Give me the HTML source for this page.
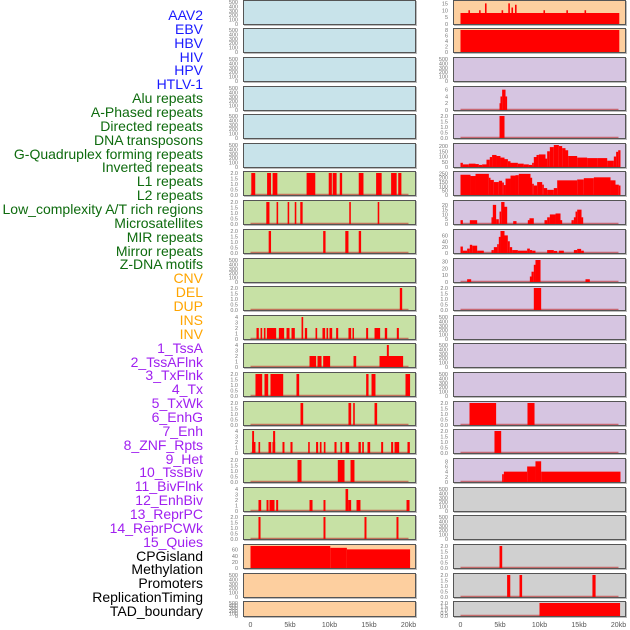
<!DOCTYPE html>
<html><head><meta charset="utf-8">
<style>
html,body{margin:0;padding:0;background:#fff;}
#wrap{position:relative;width:630px;height:630px;overflow:hidden;font-family:"Liberation Sans",sans-serif;}
.lab{position:absolute;right:427px;font-size:14px;line-height:14px;white-space:nowrap;}
svg{position:absolute;left:0;top:0;}
</style></head>
<body>
<div id="wrap">
<svg id="chart" width="630" height="630"></svg>
</div>
<script>
// ---- track labels ----
const trackLabels = ["AAV2","EBV","HBV","HIV","HPV","HTLV-1","Alu repeats","A-Phased repeats","Directed repeats","DNA transposons","G-Quadruplex forming repeats","Inverted repeats","L1 repeats","L2 repeats","Low_complexity A/T rich regions","Microsatellites","MIR repeats","Mirror repeats","Z-DNA motifs","CNV","DEL","DUP","INS","INV","1_TssA","2_TssAFlnk","3_TxFlnk","4_Tx","5_TxWk","6_EnhG","7_Enh","8_ZNF_Rpts","9_Het","10_TssBiv","11_BivFlnk","12_EnhBiv","13_ReprPC","14_ReprPCWk","15_Quies","CPGisland","Methylation","Promoters","ReplicationTiming","TAD_boundary"];
const labelGroups = [6,13,5,15,5];
const groupColors = ["#1a1aff","#0e6b0e","#ffa500","#a020f0","#000000"];

// ---- x axis ----
const xTicks = [0,5,10,15,20];
const xTickLabels = ["0","5kb","10kb","15kb","20kb"];

// ---- tick label sets ----
const tEmpty = ["0","100","200","300","400","500"];
const t2 = ["0.0","0.5","1.0","1.5","2.0"];
const t4 = ["0","1","2","3","4"];

// ---- left column data: [startKb, endKb, value] ----
const L1 = [], L2 = [], L3 = [], L4 = [], L5 = [], L6 = [];
const L7 = [[0.1,0.6,2],[2.1,2.6,2],[2.8,3.4,2],[7.1,8.2,2],[9.9,10.3,2],[10.4,10.9,2],[11.3,11.6,2],[13.7,14.3,2],[15.9,16.6,2],[17.8,18.5,2],[18.7,19.1,2]];
const L8 = [[2.0,2.4,2],[3.3,3.5,2],[4.7,4.9,2],[5.6,5.8,2],[6.3,6.6,2],[12.5,12.7,2],[16.1,16.3,2]];
const L9 = [[2.3,2.6,2],[9.2,9.5,2],[12.0,12.4,2],[13.7,14.0,2]];
const L10 = [];
const L11 = [[18.9,19.2,2]];
const L12 = [[0.76,1.05,2],[1.27,1.48,2],[1.69,1.9,2],[2.07,3.25,2],[3.59,4.26,2],[4.56,4.94,2],[5.19,5.61,2],[6.46,6.67,4],[6.88,7.17,2],[8.23,8.44,2],[9.11,9.45,2],[9.62,9.83,2],[10.0,10.34,2],[10.84,11.1,2],[12.4,12.74,2],[12.91,13.08,2],[14.64,14.89,2],[15.7,16.41,2],[17.0,17.3,2],[18.52,18.78,2]];
const L13 = [[7.47,8.31,2],[8.48,8.99,2],[9.2,10.08,2],[13.04,13.38,2],[16.33,19.32,2],[17.26,17.51,4]];
const L14 = [[0.63,1.48,2],[1.77,2.24,2],[2.53,4.14,2],[5.82,6.16,2],[14.64,14.94,2],[15.32,15.82,2],[19.62,20.2,2]];
const L15 = [[6.33,6.67,2],[12.4,12.74,2],[13.0,13.2,2],[15.7,16.03,2]];
const L16 = [[0.21,0.63,2],[0.21,0.45,4],[1.01,1.22,2],[2.28,2.62,2],[2.78,3.12,2],[2.86,3.12,4],[4.05,4.3,2],[5.06,5.32,2],[7.3,7.5,2],[8.3,8.56,2],[8.78,8.99,2],[9.28,9.49,2],[10.63,10.89,2],[11.39,11.6,2],[12.03,12.49,2],[13.67,13.97,2],[14.14,14.35,2],[14.81,15.15,2],[16.54,16.79,2],[17.8,18.06,2],[18.23,18.82,2],[19.87,20.17,2]];
const L17 = [[5.95,6.46,2],[11.05,11.9,2],[12.66,13.16,2]];
const L18 = [[1.01,1.35,2],[2.03,2.28,2],[2.4,3.04,2],[3.25,3.5,2],[7.47,7.85,2],[9.24,9.49,2],[12.03,12.36,4],[12.36,12.74,2],[13.42,13.92,2],[19.75,20.13,2]];
const L19 = [[1.01,1.27,2],[9.24,9.49,2],[14.43,14.68,2],[18.48,18.73,2]];
const L20 = [[0,10.1,72],[10.1,12.2,66],[12.2,20.2,61]];
const L21 = [], L22 = [];

// ---- right column data ----
const R1 = [[0,20.1,8],[1.0,1.2,10],[2.35,2.55,10],[3.1,3.3,15],[5.2,5.4,10],[6.05,6.25,15],[6.45,6.65,12],[6.9,7.1,14],[10.5,10.7,10],[13.4,13.6,10],[15.7,15.9,10]];
const R2 = [[0,20.1,8]];
const R3 = [];
const R4 = [[4.94,5.06,2],[5.06,5.27,4],[5.27,5.7,6],[5.7,5.9,4]];
const R5 = [[4.94,5.57,2]];
const R6 = [[0,0.3,40],[0.3,1.05,25],[1.05,1.9,32],[1.9,2.32,28],[2.32,2.74,20],[2.74,3.29,25],[3.29,3.71,70],[3.71,4.0,95],[4.0,4.56,115],[4.56,5.06,105],[5.06,5.57,90],[5.57,6.0,75],[6.0,6.33,55],[6.33,7.26,40],[7.26,8.0,32],[8.0,8.65,25],[8.65,9.07,20],[9.07,9.28,40],[9.28,9.62,95],[9.62,9.92,115],[9.92,10.76,120],[10.76,10.97,80],[10.97,11.31,150],[11.31,11.81,190],[11.81,12.45,210],[12.45,12.87,200],[12.87,13.29,180],[13.29,13.63,160],[13.63,14.77,105],[14.77,16.03,90],[16.03,17.3,85],[17.3,18.57,85],[18.57,19.41,60],[19.41,19.7,100],[19.7,19.96,145],[19.96,20.25,160]];
const R7 = [[0,1.27,235],[1.27,1.9,220],[1.9,3.59,245],[3.59,3.8,200],[3.8,4.22,175],[4.22,4.85,150],[4.85,5.27,165],[5.27,5.49,145],[5.49,5.7,115],[5.7,6.33,190],[6.33,6.96,225],[6.96,7.38,230],[7.38,8.86,245],[8.86,9.07,200],[9.07,9.28,130],[9.28,9.7,110],[9.7,10.34,150],[10.34,10.55,120],[10.55,10.97,80],[10.97,11.81,60],[11.81,12.24,80],[12.24,14.77,170],[14.77,15.61,180],[15.61,16.88,195],[16.88,18.99,205],[18.99,19.62,170],[19.62,20.04,120],[20.04,20.25,110]];
const R8 = [[0,0.3,4],[1.18,2.11,4],[3.92,4.09,7],[4.09,4.51,20],[4.51,4.85,5],[4.94,5.15,13],[5.15,5.57,23],[5.57,5.91,18],[6.67,7.09,3],[8.52,8.73,4],[8.73,9.28,6],[10.63,10.97,4],[10.97,11.31,7],[11.31,12.03,10],[12.03,12.66,11],[12.66,12.87,4],[14.05,14.35,4],[14.35,14.56,7],[14.56,14.77,13],[14.77,15.32,15],[15.32,15.53,7]];
const R9 = [[0,0.3,22],[0.3,0.84,8],[0.84,1.18,15],[1.18,1.48,28],[1.48,2.11,25],[2.11,2.95,8],[3.92,4.22,10],[4.22,4.64,20],[4.64,4.85,30],[4.85,5.06,55],[5.06,5.57,75],[5.57,5.99,60],[5.99,6.24,40],[6.24,6.54,20],[6.54,7.26,10],[7.26,8.44,8],[8.44,8.78,15],[8.78,9.07,10],[9.07,9.49,8],[10.97,11.81,10],[11.81,12.24,7],[12.45,13.08,8],[14.35,14.77,10],[14.77,15.27,14],[15.27,15.61,8]];
const R10 = [[0.84,1.35,4],[8.78,8.99,8],[8.99,9.28,15],[9.28,9.49,25],[9.49,10.13,32],[15.82,16.37,4]];
const R11 = [[9.28,10.21,2]];
const R12 = [], R13 = [], R14 = [];
const R15 = [[1.14,4.51,2],[8.48,9.37,2]];
const R16 = [[4.3,5.15,2]];
const R17 = [[5.27,5.49,3],[5.49,8.44,4],[8.44,9.49,6],[9.49,10.21,8],[10.21,20.25,4]];
const R18 = [], R19 = [];
const R20 = [[4.94,5.28,2]];
const R21 = [[5.9,6.3,2],[7.47,7.8,2],[16.7,17.1,2]];
const R22 = [[10.0,20.2,2]];

const leftData = [L1,L2,L3,L4,L5,L6,L7,L8,L9,L10,L11,L12,L13,L14,L15,L16,L17,L18,L19,L20,L21,L22];
const rightData = [R1,R2,R3,R4,R5,R6,R7,R8,R9,R10,R11,R12,R13,R14,R15,R16,R17,R18,R19,R20,R21,R22];
const leftMax = [500,500,500,500,500,500,2,2,2,500,2,4,4,2,2,4,2,4,2,72,500,500];
const rightMax = [16,8,500,6.5,2,210,255,23,75,32,2,500,500,500,2,2,8.5,500,500,2,2,2];
const leftTickSets = [tEmpty,tEmpty,tEmpty,tEmpty,tEmpty,tEmpty,t2,t2,t2,tEmpty,t2,t4,t4,t2,t2,t4,t2,t4,t2,["0","20","40","60"],tEmpty,tEmpty];
const rightTickSets = [["0","5","10","15"],["0","2","4","6","8"],tEmpty,["0","2","4","6"],t2,["0","50","100","150","200"],["0","50","100","150","200","250"],["0","5","10","15","20"],["0","20","40","60"],["0","10","20","30"],t2,tEmpty,tEmpty,tEmpty,t2,t2,["0","2","4","6","8"],tEmpty,tEmpty,t2,t2,t2];

// ---- layout ----
const rowTops = [0,28,57,86,114,143,171,200,229,258,286,315,343,372,401,429,458,487,515,544,573,601];
const leftBg = ["#c8e3ea","#c8e3ea","#c8e3ea","#c8e3ea","#c8e3ea","#c8e3ea","#c7e1a5","#c7e1a5","#c7e1a5","#c7e1a5","#c7e1a5","#c7e1a5","#c7e1a5","#c7e1a5","#c7e1a5","#c7e1a5","#c7e1a5","#c7e1a5","#c7e1a5","#fdcf9f","#fdcf9f","#fdcf9f"];
const rightBg = ["#fdcf9f","#fdcf9f","#d6c5e1","#d6c5e1","#d6c5e1","#d6c5e1","#d6c5e1","#d6c5e1","#d6c5e1","#d6c5e1","#d6c5e1","#d6c5e1","#d6c5e1","#d6c5e1","#d6c5e1","#d6c5e1","#d6c5e1","#d0d0d0","#d0d0d0","#d0d0d0","#d0d0d0","#d0d0d0"];

const NS = "http://www.w3.org/2000/svg";
const svg = document.getElementById("chart");
function mk(tag, attrs){ const e=document.createElementNS(NS,tag); for(const k in attrs) e.setAttribute(k,attrs[k]); return e; }

// labels
const wrap = document.getElementById("wrap");
let gi=0, gc=0;
trackLabels.forEach((t,i)=>{
  while(gc>=labelGroups[gi]){gi++;gc=0;}
  gc++;
  const d=document.createElement("div");
  d.className="lab";
  d.style.top=(15+i*13.86-7)+"px";
  d.style.color=groupColors[gi];
  d.textContent=t;
  
  
  wrap.appendChild(d);
});

function drawPanel(col, r){
  const x0 = col===0 ? 243 : 453;
  const zeroX = col===0 ? 250.5 : 460.5;
  const sx = kb => zeroX + kb*7.9;
  const top = rowTops[r];
  const h = r===21 ? 16 : 25;
  const base = top + h - 1;
  const plotH = h - 3;
  const data = col===0 ? leftData[r] : rightData[r];
  const max = col===0 ? leftMax[r] : rightMax[r];
  const ticks = col===0 ? leftTickSets[r] : rightTickSets[r];
  const sy = v => base - v/max*plotH;
  const g = mk("g",{});
  
  
  svg.appendChild(g);
  const shadow = mk("rect",{x:x0+1,y:top+1,width:173,height:h,fill:"#bbb"});
  
  
  g.appendChild(shadow);
  const bg = mk("rect",{x:x0,y:top,width:173,height:h,fill:col===0?leftBg[r]:rightBg[r]});
  
  
  g.appendChild(bg);
  if(data.length && !(col===0 && r===19)){
    const bl = mk("line",{x1:sx(0),x2:sx(20),y1:base-0.5,y2:base-0.5,stroke:"rgba(190,40,40,0.6)","stroke-width":1.5});
    
    
    g.appendChild(bl);
  }
  data.forEach(d=>{
    const b = mk("rect",{x:sx(d[0]),y:sy(d[2]),width:Math.max(1.5,sx(d[1])-sx(d[0])),height:base+1-sy(d[2]),fill:"#ff0000"});
    
    
    g.appendChild(b);
  });
  const br = mk("rect",{x:x0+0.5,y:top+0.5,width:172,height:h-1,fill:"none",stroke:"#555","stroke-width":1});
  
  
  g.appendChild(br);
  const n = ticks.length;
  ticks.forEach((t,i)=>{
    const v = max===500 ? i*100 : parseFloat(t);
    const tt = mk("text",{x:x0-5,y:sy(v)+2,"font-size":"5.5","text-anchor":"end",fill:"#777","font-family":"Liberation Sans, sans-serif"});
    tt.textContent=t;
    
    
    g.appendChild(tt);
  });
}
for(let r=0;r<22;r++){ drawPanel(0,r); drawPanel(1,r); }

[0,1].forEach(col=>{
  const zeroX = col===0 ? 250.5 : 460.5;
  xTicks.forEach((k,i)=>{
    const t = mk("text",{x:zeroX+k*7.9,y:627,"font-size":"7","text-anchor":"middle",fill:"#555","font-family":"Liberation Sans, sans-serif"});
    t.textContent = xTickLabels[i];
    
    
    svg.appendChild(t);
  });
});
</script>
</body></html>
